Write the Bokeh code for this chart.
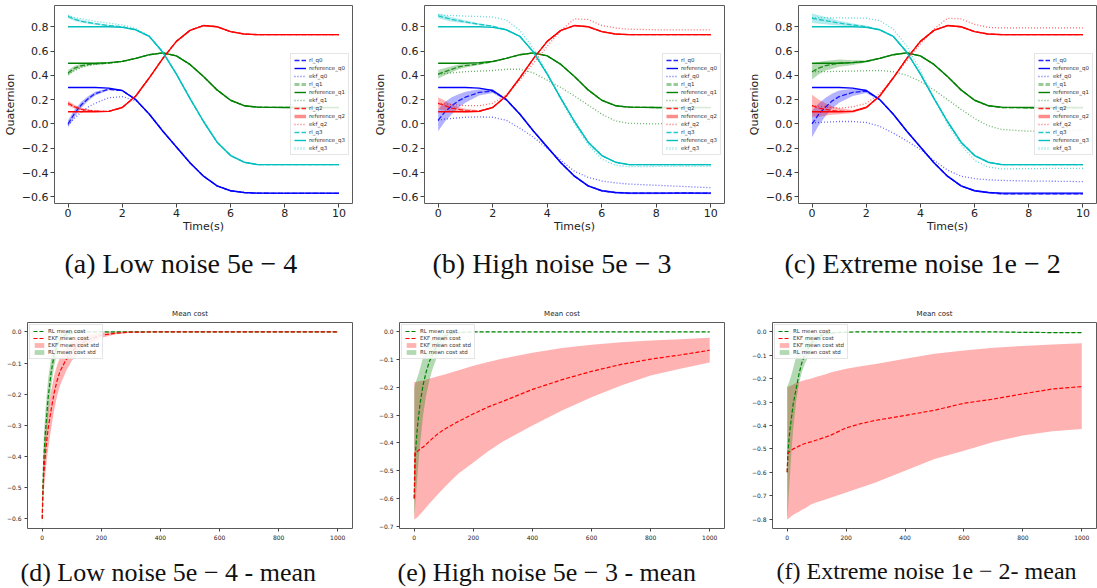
from bokeh.plotting import figure
from bokeh.layouts import column, row
from bokeh.models import Range1d, FixedTicker, CustomJSTickFormatter, Legend, LegendItem, Title
from bokeh.embed import file_html
from bokeh.resources import INLINE

# ---------------- data: quaternion tracking (top row) ----------------
T = [0, 0.25, 0.5, 0.75, 1, 1.5, 2, 2.5, 3, 3.5, 4, 4.5, 5, 5.5, 6, 6.5, 7, 8, 9, 10]
TIME_TICKS = [0, 2, 4, 6, 8, 10]
Q_TICKS = [-0.6, -0.4, -0.2, 0.0, 0.2, 0.4, 0.6, 0.8]

REF_Q0 = [0.3, 0.3, 0.3, 0.3, 0.3, 0.295, 0.275, 0.2, 0.08, -0.06, -0.19, -0.32, -0.43, -0.51, -0.55, -0.565, -0.57, -0.57, -0.57, -0.57]
REF_Q1 = [0.5, 0.5, 0.5, 0.5, 0.5, 0.505, 0.515, 0.54, 0.57, 0.585, 0.56, 0.49, 0.39, 0.28, 0.195, 0.15, 0.138, 0.135, 0.135, 0.135]
REF_Q2 = [0.1, 0.1, 0.1, 0.1, 0.1, 0.103, 0.135, 0.23, 0.38, 0.54, 0.68, 0.77, 0.81, 0.8, 0.76, 0.74, 0.735, 0.735, 0.735, 0.735]
REF_Q3 = [0.8, 0.8, 0.8, 0.8, 0.8, 0.8, 0.795, 0.775, 0.72, 0.59, 0.41, 0.21, 0.02, -0.15, -0.26, -0.315, -0.335, -0.335, -0.335, -0.335]

# (a) low noise
A_RL_Q0 = [0.0, 0.09, 0.16, 0.21, 0.25, 0.285, 0.275, 0.2, 0.08, -0.06, -0.19, -0.32, -0.43, -0.51, -0.55, -0.565, -0.57, -0.572, -0.571, -0.572]
A_STD_Q0 = [0.03, 0.03, 0.025, 0.02, 0.015, 0.008, 0.005, 0.004, 0.004, 0.004, 0.004, 0.004, 0.004, 0.004, 0.004, 0.004, 0.004, 0.004, 0.004, 0.004]
A_EKF_Q0 = [-0.01, 0.05, 0.1, 0.14, 0.17, 0.215, 0.225, 0.19, 0.085, -0.055, -0.188, -0.318, -0.428, -0.508, -0.55, -0.565, -0.57, -0.57, -0.57, -0.57]
A_RL_Q1 = [0.42, 0.46, 0.48, 0.49, 0.495, 0.5, 0.515, 0.54, 0.57, 0.585, 0.56, 0.49, 0.39, 0.28, 0.195, 0.15, 0.138, 0.136, 0.134, 0.135]
A_STD_Q1 = [0.025, 0.02, 0.015, 0.01, 0.008, 0.005, 0.004, 0.004, 0.004, 0.004, 0.004, 0.004, 0.004, 0.004, 0.004, 0.004, 0.004, 0.004, 0.004, 0.004]
A_EKF_Q1 = [0.41, 0.44, 0.465, 0.48, 0.49, 0.5, 0.512, 0.54, 0.57, 0.585, 0.56, 0.49, 0.39, 0.28, 0.195, 0.15, 0.138, 0.135, 0.135, 0.135]
A_RL_Q2 = [0.17, 0.14, 0.12, 0.11, 0.105, 0.103, 0.135, 0.23, 0.38, 0.54, 0.68, 0.77, 0.81, 0.8, 0.76, 0.74, 0.735, 0.735, 0.735, 0.735]
A_STD_Q2 = [0.02, 0.015, 0.01, 0.008, 0.005, 0.004, 0.004, 0.004, 0.004, 0.004, 0.004, 0.004, 0.004, 0.004, 0.004, 0.004, 0.004, 0.004, 0.004, 0.004]
A_EKF_Q2 = [0.16, 0.14, 0.125, 0.115, 0.108, 0.103, 0.135, 0.23, 0.38, 0.54, 0.68, 0.77, 0.81, 0.8, 0.76, 0.74, 0.735, 0.735, 0.735, 0.735]
A_RL_Q3 = [0.885, 0.86, 0.845, 0.835, 0.825, 0.81, 0.8, 0.775, 0.72, 0.59, 0.41, 0.21, 0.02, -0.15, -0.26, -0.315, -0.335, -0.335, -0.335, -0.335]
A_STD_Q3 = [0.015, 0.013, 0.012, 0.01, 0.009, 0.007, 0.005, 0.004, 0.004, 0.004, 0.004, 0.004, 0.004, 0.004, 0.004, 0.004, 0.004, 0.004, 0.004, 0.004]
A_EKF_Q3 = [0.89, 0.875, 0.865, 0.855, 0.845, 0.83, 0.815, 0.785, 0.725, 0.59, 0.41, 0.21, 0.02, -0.15, -0.26, -0.315, -0.335, -0.335, -0.335, -0.335]

# (b) high noise
B_RL_Q0 = [0.03, 0.1, 0.15, 0.19, 0.22, 0.26, 0.27, 0.2, 0.08, -0.06, -0.19, -0.32, -0.43, -0.51, -0.55, -0.565, -0.57, -0.57, -0.568, -0.57]
B_STD_Q0 = [0.09, 0.08, 0.07, 0.055, 0.045, 0.025, 0.015, 0.01, 0.008, 0.008, 0.008, 0.008, 0.008, 0.008, 0.008, 0.008, 0.008, 0.008, 0.008, 0.008]
B_EKF_Q0 = [0.03, 0.04, 0.045, 0.05, 0.055, 0.058, 0.055, 0.03, -0.035, -0.11, -0.2, -0.3, -0.39, -0.44, -0.47, -0.485, -0.495, -0.505, -0.515, -0.525]
B_RL_Q1 = [0.41, 0.43, 0.45, 0.47, 0.48, 0.495, 0.512, 0.54, 0.57, 0.585, 0.56, 0.49, 0.39, 0.28, 0.195, 0.15, 0.138, 0.135, 0.135, 0.135]
B_STD_Q1 = [0.035, 0.03, 0.025, 0.02, 0.015, 0.01, 0.006, 0.005, 0.005, 0.005, 0.005, 0.005, 0.005, 0.005, 0.005, 0.005, 0.005, 0.005, 0.005, 0.005]
B_EKF_Q1 = [0.41, 0.415, 0.42, 0.425, 0.43, 0.435, 0.44, 0.45, 0.45, 0.42, 0.36, 0.3, 0.23, 0.155, 0.08, 0.025, 0.005, 0.0, 0.01, 0.02]
B_RL_Q2 = [0.17, 0.15, 0.13, 0.12, 0.11, 0.105, 0.135, 0.23, 0.38, 0.54, 0.68, 0.77, 0.81, 0.8, 0.76, 0.74, 0.735, 0.735, 0.735, 0.735]
B_STD_Q2 = [0.05, 0.04, 0.03, 0.02, 0.015, 0.008, 0.005, 0.005, 0.005, 0.005, 0.005, 0.005, 0.005, 0.005, 0.005, 0.005, 0.005, 0.005, 0.005, 0.005]
B_EKF_Q2 = [0.17, 0.165, 0.16, 0.155, 0.15, 0.15, 0.17, 0.24, 0.36, 0.5, 0.64, 0.77, 0.865, 0.86, 0.81, 0.79, 0.78, 0.775, 0.775, 0.775]
B_RL_Q3 = [0.89, 0.875, 0.86, 0.85, 0.84, 0.82, 0.805, 0.775, 0.72, 0.59, 0.41, 0.21, 0.02, -0.15, -0.26, -0.315, -0.335, -0.335, -0.335, -0.335]
B_STD_Q3 = [0.02, 0.02, 0.018, 0.015, 0.012, 0.008, 0.005, 0.005, 0.005, 0.005, 0.005, 0.005, 0.005, 0.005, 0.005, 0.005, 0.005, 0.005, 0.005, 0.005]
B_EKF_Q3 = [0.9, 0.895, 0.893, 0.89, 0.888, 0.885, 0.88, 0.855, 0.77, 0.62, 0.42, 0.2, 0.0, -0.17, -0.29, -0.34, -0.352, -0.35, -0.35, -0.35]

# (c) extreme noise
C_RL_Q0 = [0.0, 0.08, 0.14, 0.19, 0.225, 0.26, 0.27, 0.2, 0.08, -0.06, -0.19, -0.32, -0.43, -0.51, -0.55, -0.565, -0.575, -0.575, -0.575, -0.575]
C_STD_Q0 = [0.11, 0.09, 0.075, 0.06, 0.05, 0.03, 0.015, 0.01, 0.008, 0.008, 0.008, 0.008, 0.008, 0.008, 0.008, 0.008, 0.008, 0.008, 0.008, 0.008]
C_EKF_Q0 = [0.01, 0.012, 0.015, 0.017, 0.02, 0.02, 0.012, -0.02, -0.075, -0.14, -0.21, -0.3, -0.38, -0.43, -0.45, -0.46, -0.465, -0.47, -0.472, -0.475]
C_RL_Q1 = [0.43, 0.46, 0.48, 0.49, 0.5, 0.505, 0.515, 0.54, 0.57, 0.585, 0.56, 0.49, 0.39, 0.28, 0.195, 0.15, 0.135, 0.133, 0.133, 0.133]
C_STD_Q1 = [0.065, 0.05, 0.04, 0.035, 0.03, 0.02, 0.01, 0.006, 0.006, 0.006, 0.006, 0.006, 0.006, 0.006, 0.006, 0.006, 0.006, 0.006, 0.006, 0.006]
C_EKF_Q1 = [0.43, 0.43, 0.43, 0.432, 0.433, 0.435, 0.438, 0.44, 0.43, 0.4, 0.35, 0.28, 0.2, 0.12, 0.045, -0.015, -0.045, -0.06, -0.055, -0.05]
C_RL_Q2 = [0.15, 0.13, 0.12, 0.11, 0.105, 0.103, 0.135, 0.23, 0.38, 0.54, 0.68, 0.77, 0.81, 0.8, 0.76, 0.74, 0.735, 0.735, 0.735, 0.735]
C_STD_Q2 = [0.09, 0.07, 0.05, 0.035, 0.025, 0.012, 0.008, 0.006, 0.006, 0.006, 0.006, 0.006, 0.006, 0.006, 0.006, 0.006, 0.006, 0.006, 0.006, 0.006]
C_EKF_Q2 = [0.15, 0.145, 0.14, 0.135, 0.13, 0.14, 0.17, 0.25, 0.38, 0.52, 0.66, 0.78, 0.87, 0.865, 0.82, 0.795, 0.79, 0.79, 0.79, 0.79]
C_RL_Q3 = [0.87, 0.86, 0.85, 0.84, 0.83, 0.815, 0.8, 0.775, 0.72, 0.59, 0.41, 0.21, 0.02, -0.15, -0.26, -0.315, -0.335, -0.335, -0.335, -0.335]
C_STD_Q3 = [0.04, 0.035, 0.03, 0.025, 0.02, 0.012, 0.008, 0.006, 0.006, 0.006, 0.006, 0.006, 0.006, 0.006, 0.006, 0.006, 0.006, 0.006, 0.006, 0.006]
C_EKF_Q3 = [0.875, 0.875, 0.875, 0.874, 0.873, 0.872, 0.87, 0.85, 0.78, 0.64, 0.44, 0.21, 0.0, -0.17, -0.3, -0.355, -0.37, -0.368, -0.366, -0.365]

# ---------------- data: mean cost (bottom row) ----------------
X_COST = [0, 2, 5, 10, 15, 20, 30, 40, 50, 60, 80, 100, 125, 150, 200, 250, 300, 400, 500, 600, 700, 800, 900, 1000]
COST_X_TICKS = [0, 200, 400, 600, 800, 1000]

D_RL_MEAN = [-0.6, -0.5, -0.41, -0.33, -0.27, -0.21, -0.13, -0.075, -0.045, -0.025, -0.008, -0.003, -0.001, 0, 0, 0, 0, 0, 0, 0, 0, 0, 0, 0]
D_RL_LO = [-0.63, -0.56, -0.48, -0.4, -0.335, -0.27, -0.175, -0.11, -0.07, -0.043, -0.018, -0.008, -0.004, -0.002, -0.001, -0.001, -0.001, -0.001, -0.001, -0.001, -0.001, -0.001, -0.001, -0.001]
D_RL_HI = [-0.57, -0.44, -0.34, -0.26, -0.205, -0.15, -0.085, -0.04, -0.02, -0.007, 0.002, 0.002, 0.002, 0.002, 0.001, 0.001, 0.001, 0.001, 0.001, 0.001, 0.001, 0.001, 0.001, 0.001]
D_EKF_MEAN = [-0.6, -0.52, -0.46, -0.4, -0.35, -0.31, -0.25, -0.197, -0.157, -0.127, -0.09, -0.063, -0.042, -0.027, -0.011, -0.004, -0.001, 0, 0, 0, 0, 0, 0, 0]
D_EKF_LO = [-0.6, -0.56, -0.515, -0.462, -0.415, -0.375, -0.31, -0.252, -0.207, -0.172, -0.127, -0.093, -0.064, -0.043, -0.019, -0.008, -0.003, -0.001, -0.001, -0.001, -0.001, -0.001, -0.001, -0.001]
D_EKF_HI = [-0.6, -0.48, -0.405, -0.338, -0.285, -0.245, -0.19, -0.142, -0.107, -0.082, -0.053, -0.033, -0.02, -0.011, -0.003, 0.0, 0.001, 0.001, 0.001, 0.001, 0.001, 0.001, 0.001, 0.001]

E_RL_MEAN = [-0.6, -0.5, -0.42, -0.35, -0.3, -0.255, -0.19, -0.145, -0.11, -0.085, -0.04, -0.016, -0.005, -0.002, 0, 0, 0, 0, 0, 0, 0, 0, 0, 0]
E_RL_LO = [-0.67, -0.64, -0.6, -0.53, -0.46, -0.4, -0.3, -0.23, -0.18, -0.14, -0.08, -0.04, -0.015, -0.006, -0.001, -0.001, -0.001, -0.001, -0.001, -0.001, -0.001, -0.001, -0.001, -0.001]
E_RL_HI = [-0.2, -0.19, -0.18, -0.165, -0.15, -0.13, -0.09, -0.055, -0.035, -0.022, -0.008, -0.002, 0.0, 0.001, 0.001, 0.001, 0.001, 0.001, 0.001, 0.001, 0.001, 0.001, 0.001, 0.001]
E_EKF_MEAN = [-0.6, -0.435, -0.432, -0.43, -0.427, -0.42, -0.415, -0.405, -0.395, -0.385, -0.367, -0.352, -0.337, -0.322, -0.295, -0.27, -0.25, -0.207, -0.172, -0.142, -0.117, -0.098, -0.083, -0.066]
E_EKF_LO = [-0.675, -0.675, -0.672, -0.668, -0.663, -0.657, -0.645, -0.632, -0.62, -0.608, -0.585, -0.562, -0.535, -0.51, -0.47, -0.43, -0.395, -0.337, -0.283, -0.235, -0.193, -0.157, -0.133, -0.11]
E_EKF_HI = [-0.18, -0.18, -0.18, -0.179, -0.178, -0.177, -0.175, -0.172, -0.169, -0.166, -0.16, -0.154, -0.146, -0.138, -0.122, -0.108, -0.096, -0.075, -0.058, -0.046, -0.037, -0.031, -0.026, -0.021]

F_RL_MEAN = [-0.6, -0.53, -0.47, -0.41, -0.36, -0.31, -0.245, -0.18, -0.13, -0.095, -0.05, -0.025, -0.01, -0.004, -0.001, 0, 0, 0, 0, 0, 0, -0.002, -0.003, -0.003]
F_RL_LO = [-0.8, -0.77, -0.7, -0.6, -0.5, -0.42, -0.3, -0.22, -0.17, -0.135, -0.085, -0.048, -0.022, -0.01, -0.003, -0.001, -0.001, -0.001, -0.002, -0.002, -0.002, -0.004, -0.005, -0.005]
F_RL_HI = [-0.235, -0.228, -0.22, -0.2, -0.18, -0.155, -0.11, -0.075, -0.05, -0.03, -0.012, -0.004, -0.001, 0.0, 0.001, 0.001, 0.001, 0.001, 0.001, 0.001, 0.001, 0.0, -0.001, -0.001]
F_EKF_MEAN = [-0.6, -0.52, -0.515, -0.51, -0.505, -0.5, -0.495, -0.488, -0.482, -0.477, -0.47, -0.462, -0.452, -0.44, -0.41, -0.392, -0.378, -0.357, -0.335, -0.305, -0.287, -0.265, -0.244, -0.234]
F_EKF_LO = [-0.8, -0.8, -0.797, -0.792, -0.787, -0.782, -0.775, -0.768, -0.76, -0.755, -0.738, -0.728, -0.718, -0.708, -0.686, -0.665, -0.643, -0.593, -0.543, -0.508, -0.47, -0.443, -0.425, -0.415]
F_EKF_HI = [-0.235, -0.234, -0.233, -0.231, -0.228, -0.225, -0.218, -0.214, -0.21, -0.206, -0.2, -0.192, -0.183, -0.173, -0.158, -0.147, -0.137, -0.115, -0.094, -0.08, -0.068, -0.06, -0.054, -0.049]

CAPTIONS = ["(a) Low noise 5e \u2212 4", "(b) High noise 5e \u2212 3", "(c) Extreme noise 1e \u2212 2",
            "(d) Low noise 5e \u2212 4 - mean", "(e) High noise 5e \u2212 3 - mean", "(f) Extreme noise 1e \u2212 2- mean"]

# ---------------- styling ----------------
QCOL = ["#0000ff", "#008000", "#ff0000", "#00bfbf"]
REFS = [REF_Q0, REF_Q1, REF_Q2, REF_Q3]
SANS = "DejaVu Sans"
SERIF = "Liberation Serif"
MINUS_FMT = "return (tick < -1e-9 ? '\u2212' : '') + Math.abs(tick).toFixed(1);"


def style_axes(p, label_size, tick_size, tick_len):
    p.xgrid.visible = False
    p.ygrid.visible = False
    p.outline_line_color = "#5a5a5a"
    p.outline_line_width = 1
    for ax in (p.xaxis[0], p.yaxis[0]):
        ax.axis_line_color = None
        ax.major_tick_out = tick_len
        ax.major_tick_in = 0
        ax.minor_tick_out = 0
        ax.minor_tick_in = 0
        ax.major_tick_line_color = "#444444"
        ax.major_label_text_font = SANS
        ax.major_label_text_font_size = tick_size
        ax.major_label_text_color = "#222222"
        ax.axis_label_text_font = SANS
        ax.axis_label_text_font_size = label_size
        ax.axis_label_text_font_style = "normal"
        ax.axis_label_text_color = "#222222"


def add_caption(p, text, offset, size, standoff, spacer):
    if spacer > 0:
        p.add_layout(Title(text=" ", text_font_size="%dpx" % spacer, standoff=0), "below")
    cap = Title(text=text, align="left", offset=offset, text_font=SERIF, text_font_size=size,
                text_font_style="normal", text_color="#111111", standoff=standoff)
    p.add_layout(cap, "below")


def make_top(rl, std, ekf, caption, width, left, right, cap_off):
    p = figure(width=width, height=300, output_backend="svg", toolbar_location=None,
               x_range=Range1d(-0.5, 10.5), y_range=Range1d(-0.655, 0.975),
               min_border_left=left, min_border_right=right, min_border_top=5, min_border_bottom=97,
               background_fill_color="white", border_fill_color="white")
    style_axes(p, "11px", "11px", 4)
    p.xaxis.ticker = FixedTicker(ticks=TIME_TICKS)
    p.yaxis.ticker = FixedTicker(ticks=Q_TICKS)
    p.xaxis.formatter = CustomJSTickFormatter(code="return tick.toFixed(0);")
    p.yaxis.formatter = CustomJSTickFormatter(code=MINUS_FMT)
    p.xaxis.axis_label = "Time(s)"
    p.yaxis.axis_label = "Quaternion"
    p.xaxis.major_label_standoff = 1
    p.yaxis.major_label_standoff = 2
    p.xaxis.axis_label_standoff = 0
    p.yaxis.axis_label_standoff = 2

    for i in range(4):
        lo = [m - s for m, s in zip(rl[i], std[i])]
        hi = [m + s for m, s in zip(rl[i], std[i])]
        p.varea(x=T, y1=lo, y2=hi, fill_color=QCOL[i], fill_alpha=0.3)
    for i in range(4):
        p.line(T, REFS[i], line_color=QCOL[i], line_width=1.4)
        p.line(T, ekf[i], line_color=QCOL[i], line_width=1.3, line_dash="1 2", line_alpha=0.6)
        p.line(T, rl[i], line_color=QCOL[i], line_width=1.3, line_dash="5 2", line_alpha=0.85)

    # legend-only renderers (hidden), reproducing the legend's own key styles
    items = []
    for i in range(4):
        specs = [("rl_q%d" % i, "5 2", 1.3, 0.85), ("reference_q%d" % i, "solid", 1.4, 1.0),
                 ("ekf_q%d" % i, "1 2", 1.3, 0.6)]
        for name, dash, w, a in specs:
            if name == "rl_q1" or name == "ekf_q3":
                w, a = 3.0, 0.4
            if name == "reference_q2":
                w, a = 3.5, 0.45
            r = p.line(T, REFS[i], line_color=QCOL[i], line_width=w, line_dash=dash, line_alpha=a,
                       visible=False)
            items.append(LegendItem(label=name, renderers=[r]))
    leg = Legend(items=items, location="center_right", margin=3, padding=3, spacing=2,
                 label_height=6, glyph_height=6, glyph_width=12, label_standoff=3,
                 label_text_font=SANS, label_text_font_size="5.5px", label_text_color="#333333",
                 border_line_color="#cccccc", background_fill_alpha=0.85)
    p.add_layout(leg)
    add_caption(p, caption, cap_off, "28px", 20, 0)
    return p


def make_bottom(rl_mean, rl_lo, rl_hi, ekf_mean, ekf_lo, ekf_hi, yr, yticks, caption,
                width, left, right, cap_off, cap_size):
    p = figure(width=width, height=288, output_backend="svg", toolbar_location=None,
               x_range=Range1d(-50, 1050), y_range=Range1d(*yr),
               min_border_left=left, min_border_right=right, min_border_top=22, min_border_bottom=60,
               background_fill_color="white", border_fill_color="white")
    style_axes(p, "7px", "6px", 3)
    p.title.text = "Mean cost"
    p.title.align = "center"
    p.title.text_font = SANS
    p.title.text_font_size = "7px"
    p.title.text_font_style = "normal"
    p.title.text_color = "#222222"
    p.xaxis.ticker = FixedTicker(ticks=COST_X_TICKS)
    p.yaxis.ticker = FixedTicker(ticks=yticks)
    p.xaxis.formatter = CustomJSTickFormatter(code="return tick.toFixed(0);")
    p.yaxis.formatter = CustomJSTickFormatter(code=MINUS_FMT)
    p.xaxis.major_label_standoff = 3
    p.yaxis.major_label_standoff = 3

    ef = p.varea(x=X_COST, y1=ekf_lo, y2=ekf_hi, fill_color="#ff0000", fill_alpha=0.3)
    rf = p.varea(x=X_COST, y1=rl_lo, y2=rl_hi, fill_color="#008000", fill_alpha=0.3)
    rm = p.line(X_COST, rl_mean, line_color="#008000", line_width=1.2, line_dash="4 2")
    em = p.line(X_COST, ekf_mean, line_color="#ff0000", line_width=1.2, line_dash="4 2")
    leg = Legend(items=[LegendItem(label="RL mean cost", renderers=[rm]),
                        LegendItem(label="EKF mean cost", renderers=[em]),
                        LegendItem(label="EKF mean cost std", renderers=[ef]),
                        LegendItem(label="RL mean cost std", renderers=[rf])],
                 location="top_left", margin=2, padding=3, spacing=1,
                 label_height=6, glyph_height=6, glyph_width=12, label_standoff=3,
                 label_text_font=SANS, label_text_font_size="5.5px", label_text_color="#333333",
                 border_line_color="#cccccc", background_fill_alpha=0.85)
    p.add_layout(leg)
    add_caption(p, caption, cap_off, cap_size, 4, 8)
    return p


pa = make_top([A_RL_Q0, A_RL_Q1, A_RL_Q2, A_RL_Q3], [A_STD_Q0, A_STD_Q1, A_STD_Q2, A_STD_Q3],
              [A_EKF_Q0, A_EKF_Q1, A_EKF_Q2, A_EKF_Q3], CAPTIONS[0], 370, 53, 18, 10)
pb = make_top([B_RL_Q0, B_RL_Q1, B_RL_Q2, B_RL_Q3], [B_STD_Q0, B_STD_Q1, B_STD_Q2, B_STD_Q3],
              [B_EKF_Q0, B_EKF_Q1, B_EKF_Q2, B_EKF_Q3], CAPTIONS[1], 370, 54, 16, 8)
pc = make_top([C_RL_Q0, C_RL_Q1, C_RL_Q2, C_RL_Q3], [C_STD_Q0, C_STD_Q1, C_STD_Q2, C_STD_Q3],
              [C_EKF_Q0, C_EKF_Q1, C_EKF_Q2, C_EKF_Q3], CAPTIONS[2], 357, 58, 1, -14)

pd = make_bottom(D_RL_MEAN, D_RL_LO, D_RL_HI, D_EKF_MEAN, D_EKF_LO, D_EKF_HI, (-0.631, 0.03),
                 [-0.6, -0.5, -0.4, -0.3, -0.2, -0.1, 0.0], CAPTIONS[3], 370, 27, 18, -7, "26px")
pe = make_bottom(E_RL_MEAN, E_RL_LO, E_RL_HI, E_EKF_MEAN, E_EKF_LO, E_EKF_HI, (-0.708, 0.034),
                 [-0.7, -0.6, -0.5, -0.4, -0.3, -0.2, -0.1, 0.0], CAPTIONS[4], 370, 29, 16, -2, "26px")
pf = make_bottom(F_RL_MEAN, F_RL_LO, F_RL_HI, F_EKF_MEAN, F_EKF_LO, F_EKF_HI, (-0.84, 0.04),
                 [-0.8, -0.7, -0.6, -0.5, -0.4, -0.3, -0.2, -0.1, 0.0], CAPTIONS[5], 357, 32, 1, 4, "24px")

layout = column(row(pa, pb, pc), row(pd, pe, pf))
open("out.html", "w").write(file_html(layout, INLINE))
